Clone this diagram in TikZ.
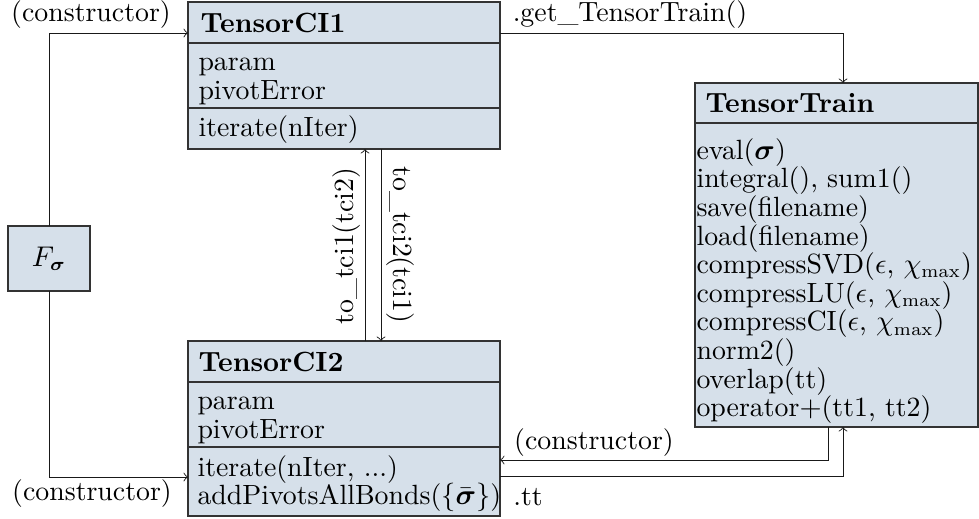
\documentclass[tikz,border=0pt]{standalone}
\usepackage{amsmath}
\usepackage{bm}
\definecolor{boxfill}{RGB}{214,224,234}
\def\PX{0.3846pt}
\tikzset{
  box/.style={draw=black!80, line width=0.5pt, fill=boxfill, anchor=north west,
    inner sep=0pt, outer sep=0pt, minimum width=#1*\PX},
  txt/.style={anchor=west, align=left, inner sep=0pt,
    font=\fontsize{10.7}{11}\selectfont},
  lbl/.style={inner sep=0pt, font=\fontsize{10.7}{11}\selectfont},
  conn/.style={->, line width=0.35pt, black!90}
}
\begin{document}
\begin{tikzpicture}[x=\PX, y=-\PX]
\useasboundingbox (0,0) rectangle (979,518);

% TensorCI1
\node[box=312, minimum height=41*\PX] (tci1h) at (188,2) {};
\node[box=312, minimum height=65*\PX] (tci1a) at (tci1h.south west) {};
\node[box=312, minimum height=41*\PX] (tci1m) at (tci1a.south west) {};
\node[txt] (tci1ht) at ([xshift=12*\PX]tci1h.west) {\textbf{TensorCI1}};
\node[txt] (tci1at) at ([xshift=10*\PX, yshift=-6*\PX]tci1a.west) {param\\pivotError};
\node[txt] (tci1mt) at ([xshift=10*\PX, yshift=-1*\PX]tci1m.west) {iterate(nIter)};

% TensorCI2
\node[box=312, minimum height=41*\PX] (tci2h) at (188,341) {};
\node[box=312, minimum height=65*\PX] (tci2a) at (tci2h.south west) {};
\node[box=312, minimum height=69*\PX] (tci2m) at (tci2a.south west) {};
\node[txt] (tci2ht) at ([xshift=10*\PX]tci2h.west) {\textbf{TensorCI2}};
\node[txt] (tci2at) at ([xshift=9*\PX, yshift=-6*\PX]tci2a.west) {param\\pivotError};
\node[txt] (tci2mt) at ([xshift=9*\PX, yshift=-2*\PX]tci2m.west) {iterate(nIter, ...)\\addPivotsAllBonds($\{\bar{\bm{\sigma}}\}$)};

% TensorTrain
\node[box=283, minimum height=40*\PX] (tth) at (695,83) {};
\node[box=283, minimum height=304*\PX] (ttm) at (tth.south west) {};
\node[txt] (ttht) at ([xshift=10*\PX]tth.west) {\textbf{TensorTrain}};
\node[txt] (ttmt) at ([xshift=1*\PX, yshift=-6*\PX]ttm.west) {eval($\bm{\sigma}$)\\
integral(), sum1()\\
save(filename)\\
load(filename)\\
compressSVD($\epsilon$, $\chi_{\max}$)\\
compressLU($\epsilon$, $\chi_{\max}$)\\
compressCI($\epsilon$, $\chi_{\max}$)\\
norm2()\\
overlap(tt)\\
operator$+$(tt1, tt2)};

% F sigma
\node[box=82, minimum height=65*\PX, anchor=center, font=\fontsize{10.7}{11}\selectfont] (F) at (49,258.5) {$F_{\bm{\sigma}}$};

% connectors
\draw[conn] (F.north) |- (tci1h.west |- 0,33);
\draw[conn] (F.south) |- (tci2m.west |- 0,477);
\draw[conn] (tci1h.east |- 0,33) -| (tth.north -| 843,0);
\draw[conn] (tci2h.north -| 365,0) -- (tci1m.south -| 365,0);
\draw[conn] (tci1m.south -| 381,0) -- (tci2h.north -| 381,0);
\draw[conn] (ttm.south -| 828,0) |- (tci2m.east |- 0,460);
\draw[conn] (tci2m.east |- 0,476) -| (ttm.south -| 843,0);

% labels
\node[lbl] (l1) at (91,15) {(constructor)};
\node[lbl] (l2) at (92,494) {(constructor)};
\node[lbl] (l3) at (630,15) {.get\_TensorTrain()};
\node[lbl, rotate=90] (l4) at (347,246) {to\_tci1(tci2)};
\node[lbl, rotate=-90] (l5) at (400,245) {to\_tci2(tci1)};
\node[lbl] (l6) at (594,443) {(constructor)};
\node[lbl] (l7) at (528,497) {.tt};
\end{tikzpicture}
\end{document}
